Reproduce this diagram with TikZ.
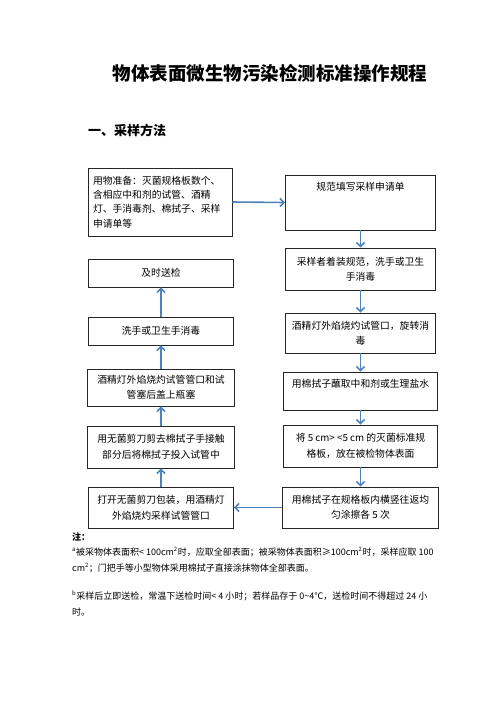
\documentclass[tikz,border=0pt]{standalone}
\usepackage{fontspec}
\setmainfont{Noto Sans CJK SC}
\usepackage{xcolor}
\usepackage{tikz}
\usetikzlibrary{positioning, arrows.meta}
\definecolor{flowblue}{HTML}{4F81BD}
\definecolor{boxline}{HTML}{262626}

\begin{document}
\begin{tikzpicture}[x=1pt, y=-1pt,
    stepbox/.style={draw=boxline, line width=0.8pt, inner xsep=4pt, inner ysep=3pt,
      minimum width=150pt, align=center,
      font=\fontsize{9.8}{15.5}\selectfont},
    topbox/.style={stepbox, text height=12pt},
    flow/.style={draw=flowblue, line width=1.6pt, -{Straight Barb[length=4pt, width=8pt]}},
    notetext/.style={anchor=west, inner sep=0pt, align=left,
      font=\fontsize{9}{16}\selectfont}]
  \useasboundingbox (0,0) rectangle (496,702);

  % heading
  \node[font=\fontsize{18.5}{20}\bfseries] (title) at (270,73) {物体表面微生物污染检测标准操作规程};
  \node[anchor=west, inner sep=0pt, font=\fontsize{13}{15}\bfseries] (method) at (88,130) {一、采样方法};

  % right column
  \node[stepbox, minimum width=144pt, minimum height=68pt, text width=134pt, align=left,
        font=\fontsize{9.8}{14.3}\selectfont] (prep) at (160,202) {%
    用物准备：灭菌规格板数个、\\
    含相应中和剂的试管、酒精\\
    灯、手消毒剂、棉拭子、采样\\
    申请单等};
  \node[topbox, text depth=37pt] (apply) at (360.5,202.5) {规范填写采样申请单};
  \node[stepbox, minimum height=42pt] (dress) at (360.5,269) {采样者着装规范，洗手或卫生\\手消毒};
  \node[stepbox, minimum height=40pt] (flame) at (360.5,333) {酒精灯外焰烧灼试管口，旋转消\\毒};
  \node[topbox, minimum width=154pt, text depth=20pt] (dip) at (360.5,391) {用棉拭子蘸取中和剂或生理盐水};
  \node[stepbox, minimum width=154pt, minimum height=42pt] (plate) at (360.5,446) {将 5 cm> <5 cm 的灭菌标准规\\格板，放在被检物体表面};
  \node[stepbox, minimum width=156pt, minimum height=41pt] (swab) at (360.5,507.5) {用棉拭子在规格板内横竖往返均\\匀涂擦各 5 次};

  % left column
  \node[stepbox, minimum width=145pt, minimum height=41pt] (open) at (161,507.5) {打开无菌剪刀包装，用酒精灯\\外焰烧灼采样试管管口};
  \node[stepbox, minimum width=147pt, minimum height=42pt] (cut) at (161,447) {用无菌剪刀剪去棉拭子手接触\\部分后将棉拭子投入试管中};
  \node[stepbox, minimum width=147pt, minimum height=37pt] (seal) at (161,387.5) {酒精灯外焰烧灼试管管口和试\\管塞后盖上瓶塞};
  \node[stepbox, minimum width=145pt, minimum height=28pt] (wash) at (161,331) {洗手或卫生手消毒};
  \node[stepbox, minimum width=145pt, minimum height=28pt] (send) at (161,273) {及时送检};

  % connectors
  \draw[flow] (prep.east) -- (apply.west);
  \draw[flow] (apply.south) -- (dress.north);
  \draw[flow] (dress.south) -- (flame.north);
  \draw[flow] (flame.south) -- (dip.north);
  \draw[flow] (dip.south) -- (plate.north);
  \draw[flow] (plate.south) -- (swab.north);
  \draw[flow] (swab.west) -- (open.east);
  \draw[flow] (open.north) -- (cut.south);
  \draw[flow] (cut.north) -- (seal.south);
  \draw[flow] (seal.north) -- (wash.south);
  \draw[flow] (wash.north) -- (send.south);

  % notes
  \node[notetext, font=\fontsize{9}{11}\bfseries] (notehead) at (72,537) {注：};
  \node[notetext, anchor=north west] (notea) at (72,547) {%
    \textsuperscript{a}被采物体表面积< 100cm\textsuperscript{2}时，应取全部表面；被采物体表面积≥100cm\textsuperscript{2}时，采样应取 100\\
    cm\textsuperscript{2}；门把手等小型物体采用棉拭子直接涂抹物体全部表面。};
  \node[notetext, anchor=north west] (noteb) at (72,591) {%
    \textsuperscript{b}采样后立即送检，常温下送检时间< 4 小时；若样品存于 0\textasciitilde4℃，送检时间不得超过 24 小\\
    时。};
\end{tikzpicture}
\end{document}
